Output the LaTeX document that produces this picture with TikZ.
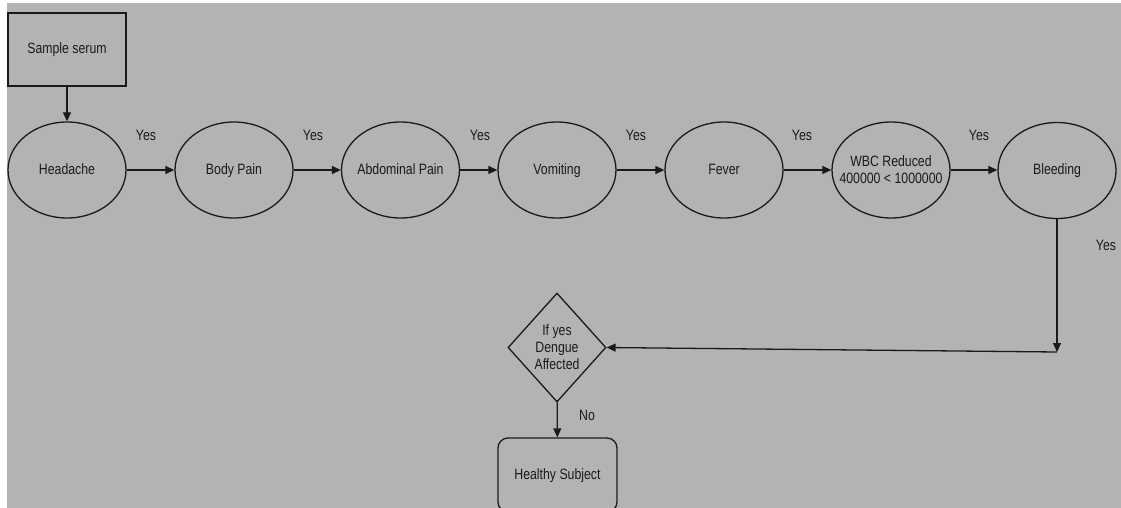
\documentclass[tikz,border=0pt]{standalone}
\usepackage{fontspec}
\setmainfont[FakeStretch=0.82]{Liberation Sans}
\usetikzlibrary{shapes.geometric,arrows.meta}
\definecolor{bg}{HTML}{B3B3B3}
\definecolor{ink}{HTML}{1A1A1A}
\begin{document}
\begin{tikzpicture}[x=1pt,y=-1pt,
  every node/.style={font=\fontsize{15}{17}\selectfont, text=ink},
  ovalbase/.style={ellipse, draw=ink, line width=1.3pt, minimum width=118pt, minimum height=96pt, inner sep=-30pt, align=center},
  oval/.style={ovalbase, text height=11pt, text depth=3pt},
  boxnode/.style={rectangle, draw=ink, line width=1.3pt, minimum width=118pt, minimum height=73pt, inner sep=0pt, text height=11pt, text depth=3pt},
  roundbox/.style={rectangle, rounded corners=10pt, draw=ink, line width=1.3pt, minimum width=119pt, minimum height=74pt, inner sep=0pt, text height=11pt, text depth=3pt},
  decision/.style={diamond, draw=ink, line width=1.3pt, minimum width=98pt, minimum height=109pt, inner sep=-20pt, align=center},
  conn/.style={draw=ink, line width=1.3pt, -{Triangle[length=9pt,width=8pt]}},
  lbl/.style={}]
\useasboundingbox (0,0) rectangle (1121,508);
\fill[white] (0,0) rectangle (1121,508);
\fill[bg] (7,3) rectangle (1121,508);
\clip (7,3) rectangle (1121,508);

\node[boxnode] (serum) at (67,49.5) {Sample serum};
\node[oval] (head) at (67,170) {Headache};
\node[oval] (body) at (234,170) {Body Pain};
\node[oval] (abd) at (400.5,170) {Abdominal Pain};
\node[oval] (vom) at (557,170) {Vomiting};
\node[oval] (fever) at (724,170) {Fever};
\node[ovalbase] (wbc) at (891,170) {WBC Reduced\\400000 {<} 1000000};
\node[oval] (bleed) at (1057,170.5) {Bleeding};
\node[decision] (dec) at (557,347.5) {If yes\\Dengue\\Affected};
\node[roundbox] (healthy) at (557.5,475) {Healthy Subject};
\coordinate (corner) at (1057,352);

\draw[conn] (serum) -- (head);
\draw[conn] (head) -- (body);
\draw[conn] (body) -- (abd);
\draw[conn] (abd) -- (vom);
\draw[conn] (vom) -- (fever);
\draw[conn] (fever) -- (wbc);
\draw[conn] (wbc.east) -- (bleed.west |- wbc.east);
\draw[conn] (bleed) -- (corner);
\draw[conn] (corner) -- (dec.east);
\draw[conn] (dec) -- (healthy);

\node[lbl] (y1) at (146,135) {Yes};
\node[lbl] (y2) at (313,135) {Yes};
\node[lbl] (y3) at (480,135) {Yes};
\node[lbl] (y4) at (636,135) {Yes};
\node[lbl] (y5) at (802,135) {Yes};
\node[lbl] (y6) at (979,135) {Yes};
\node[lbl] (y7) at (1106,245) {Yes};
\node[lbl] (no) at (587,415) {No};
\end{tikzpicture}
\end{document}
